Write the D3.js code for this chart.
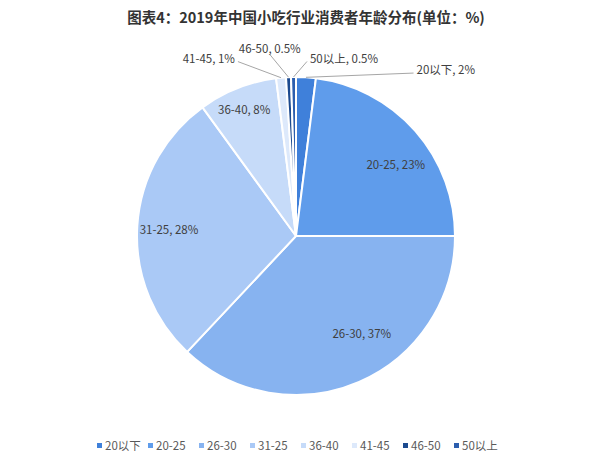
<!DOCTYPE html>
<html><head><meta charset="utf-8">
<script src="https://cdn.jsdelivr.net/npm/d3@7"></script>
<style>body{margin:0;background:#fff;}svg{display:block;font-family:"Noto Sans CJK SC","Microsoft YaHei",sans-serif;}</style>
</head><body>
<svg id="c" width="600" height="471"></svg>
<script>
const categories = ["20以下","20-25","26-30","31-25","36-40","41-45","46-50","50以上"];
const values = [2, 23, 37, 28, 8, 1, 0.5, 0.5];
const valueLabels = ["2%","23%","37%","28%","8%","1%","0.5%","0.5%"];
const colors = ["#3f80da","#5f9ceb","#87b3f0","#aac9f6","#c6dbf9","#dde9fb","#1c4a8f","#2c5eae"];
// label placement: [angle deg, radius factor, inside?, anchor]
const labelPlace = [[36,1.29,false,"start"],[54.6,0.77,true,"middle"],[146,0.74,true,"middle"],[272.7,0.80,true,"middle"],[337.6,0.855,true,"middle"],[341,1.18,false,"end"],[352,1.185,false,"middle"],[4.5,1.12,false,"start"]];

const svg = d3.select("#c");
const cx = 296, cy = 236, R = 159;
svg.append("text").attr("x",306).attr("y",23).attr("text-anchor","middle")
  .attr("font-size",14.5).attr("font-weight","bold").attr("fill","#333").text("图表4：2019年中国小吃行业消费者年龄分布(单位：%)");

const pie = d3.pie().sort(null).value(d=>d)(values);
const arc = d3.arc().innerRadius(0).outerRadius(R);
const g = svg.append("g").attr("transform",`translate(${cx},${cy})`);
g.selectAll("path").data(pie).enter().append("path")
  .attr("d",arc).attr("fill",(d,i)=>colors[i]).attr("stroke","#fff").attr("stroke-width",2);

const rad = a=>a*Math.PI/180;
pie.forEach((d,i)=>{
  const [ang,rf,inside,anchor]=labelPlace[i];
  const x = Math.sin(rad(ang))*R*rf, y = -Math.cos(rad(ang))*R*rf;
  const txt = categories[i]+", "+valueLabels[i];
  if(!inside){
    const mid=(d.startAngle+d.endAngle)/2;
    const x0=Math.sin(mid)*R, y0=-Math.cos(mid)*R;
    let x1=x, y1=y+3;
    if(anchor==="end") x1=x+3;
    else if(anchor==="start") x1=x-3;
    else y1=y+5;
    g.append("line").attr("x1",x0).attr("y1",y0).attr("x2",x1).attr("y2",y1)
      .attr("stroke","#a6a6a6").attr("stroke-width",1);
  }
  g.append("text").attr("x",x).attr("y",y).attr("dy","0.35em").attr("text-anchor",anchor)
    .attr("font-size",11.5).attr("fill","#404040").text(txt);
});

const leg = svg.append("g").attr("transform","translate(97,446)");
const legX = d3.scalePoint().domain(categories).range([0,357]);
categories.forEach((c,i)=>{
  const lg=leg.append("g").attr("transform",`translate(${legX(c)},0)`);
  lg.append("rect").attr("x",0).attr("y",-3).attr("width",5).attr("height",5).attr("fill",colors[i]);
  lg.append("text").attr("x",8).attr("y",0).attr("dy","0.35em").attr("font-size",11.5).attr("fill","#595959").text(c);
});
</script>
</body></html>
